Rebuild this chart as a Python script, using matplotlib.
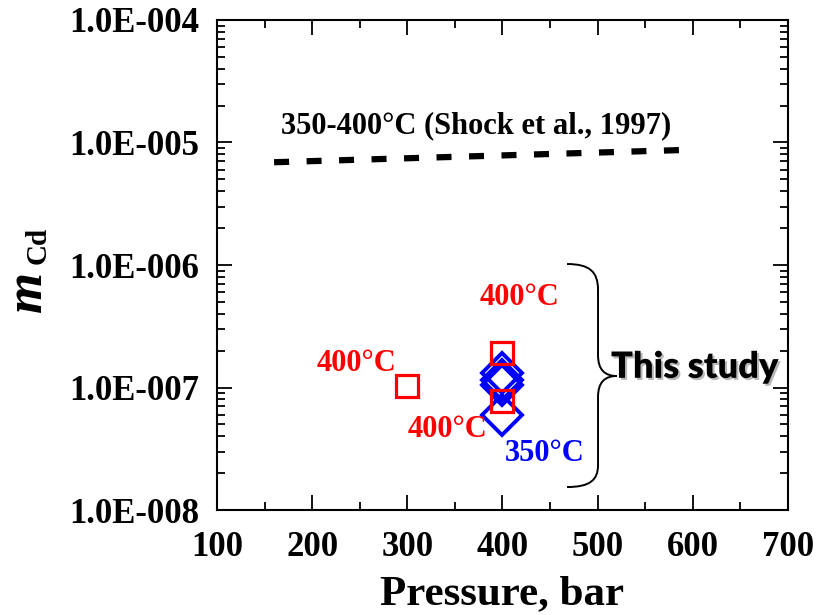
import matplotlib
matplotlib.use("Agg")
import matplotlib.pyplot as plt
import matplotlib.patheffects as pe
from matplotlib.path import Path
from matplotlib.patches import PathPatch
from matplotlib.ticker import MultipleLocator, LogLocator, FixedLocator, FixedFormatter

# Shock et al. (1997) prediction, 350-400 C
shock_p = [160, 593]
shock_m = [6.9e-6, 8.7e-6]

# this study, 400 C (red squares)
p_400 = [300, 400, 400]
m_400 = [1.03e-7, 1.90e-7, 7.8e-8]

# this study, 350 C (blue diamonds)
p_350 = [400, 400, 400, 400]
m_350 = [1.32e-7, 1.16e-7, 1.04e-7, 6.0e-8]

x_ticks = [100, 200, 300, 400, 500, 600, 700]
y_ticks = [1e-8, 1e-7, 1e-6, 1e-5, 1e-4]
y_labels = ["1.0E-008", "1.0E-007", "1.0E-006", "1.0E-005", "1.0E-004"]

serif = "Liberation Serif"

fig = plt.figure(figsize=(8.17, 6.15), dpi=100)
ax = fig.add_axes([0.2656, 0.1707, 0.6989, 0.7968])

line, = ax.plot(shock_p, shock_m, color="black", lw=4.5, solid_capstyle="butt")
line.set_linestyle((0, (2.4, 2.8)))
line.set_dash_capstyle("butt")

ax.plot(p_350, m_350, linestyle="none", marker="D", ms=20.5, mfc="none",
        mec="#0000ff", mew=2.8)
ax.plot(p_400, m_400, linestyle="none", marker="s", ms=16.5, mfc="none",
        mec="#ff0000", mew=2.3)

ax.set_yscale("log")
ax.set_xlim(100, 700)
ax.set_ylim(1e-8, 1e-4)

ax.xaxis.set_major_locator(FixedLocator(x_ticks))
ax.xaxis.set_minor_locator(MultipleLocator(50))
ax.yaxis.set_major_locator(FixedLocator(y_ticks))
ax.yaxis.set_major_formatter(FixedFormatter(y_labels))
ax.yaxis.set_minor_locator(LogLocator(base=10, subs=range(2, 10), numticks=20))

ax.tick_params(which="both", direction="in", top=True, right=True, width=1.3)
ax.tick_params(which="major", length=11)
ax.tick_params(which="minor", length=6)
ax.tick_params(axis="y", which="major", pad=13)
ax.tick_params(axis="x", which="major", pad=15)
for lab in ax.get_xticklabels() + ax.get_yticklabels():
    lab.set_fontfamily(serif)
    lab.set_fontweight("bold")
    lab.set_fontsize(25)
for s in ax.spines.values():
    s.set_linewidth(1.5)

ax.set_xlabel("Pressure, bar", family=serif, weight="bold", fontsize=31, labelpad=8)

# y label: italic m with subscript Cd
fig.text(28 / 817, 1 - 291 / 615, "m", family=serif, weight="bold", style="italic",
         fontsize=38, rotation=90, ha="center", va="center")
fig.text(38 / 817, 1 - 245 / 615, "Cd", family=serif, weight="bold",
         fontsize=21, rotation=90, ha="center", va="center")

# annotations
ax.text(372, 1.18e-5, "350-400°C (Shock et al., 1997)", family=serif, weight="bold",
        fontsize=22, ha="center", va="baseline")
ax.text(418, 4.73e-7, "400°C", family=serif, weight="bold", fontsize=22,
        color="#ff0000", ha="center", va="baseline")
ax.text(247, 1.37e-7, "400°C", family=serif, weight="bold", fontsize=22,
        color="#ff0000", ha="center", va="baseline")
ax.text(342, 3.96e-8, "400°C", family=serif, weight="bold", fontsize=22,
        color="#ff0000", ha="center", va="baseline")
ax.text(444, 2.52e-8, "350°C", family=serif, weight="bold", fontsize=22,
        color="#0000ff", ha="center", va="baseline")

ax.text(602, 1.2e-7, "This study", family="Lato", weight="heavy", fontsize=26,
        ha="center", va="baseline", clip_on=False,
        path_effects=[pe.SimplePatchShadow(offset=(1.5, -1.5), shadow_rgbFace="#888888",
                                           alpha=0.6), pe.Normal()])

# curly brace (axes fraction coordinates)
verts = [(0.6130, 0.5020), (0.6532, 0.5020), (0.6673, 0.4857), (0.6673, 0.4490),
         (0.6673, 0.3163),
         (0.6673, 0.2857), (0.6795, 0.2735), (0.7005, 0.2735),
         (0.6795, 0.2735), (0.6673, 0.2612), (0.6673, 0.2306),
         (0.6673, 0.0918),
         (0.6673, 0.0612), (0.6532, 0.0469), (0.6130, 0.0469)]
codes = [Path.MOVETO, Path.CURVE4, Path.CURVE4, Path.CURVE4,
         Path.LINETO,
         Path.CURVE4, Path.CURVE4, Path.CURVE4,
         Path.CURVE4, Path.CURVE4, Path.CURVE4,
         Path.LINETO,
         Path.CURVE4, Path.CURVE4, Path.CURVE4]
ax.add_patch(PathPatch(Path(verts, codes), transform=ax.transAxes, fill=False,
                       lw=1.4, edgecolor="black"))

fig.savefig("out.png", dpi=100)
